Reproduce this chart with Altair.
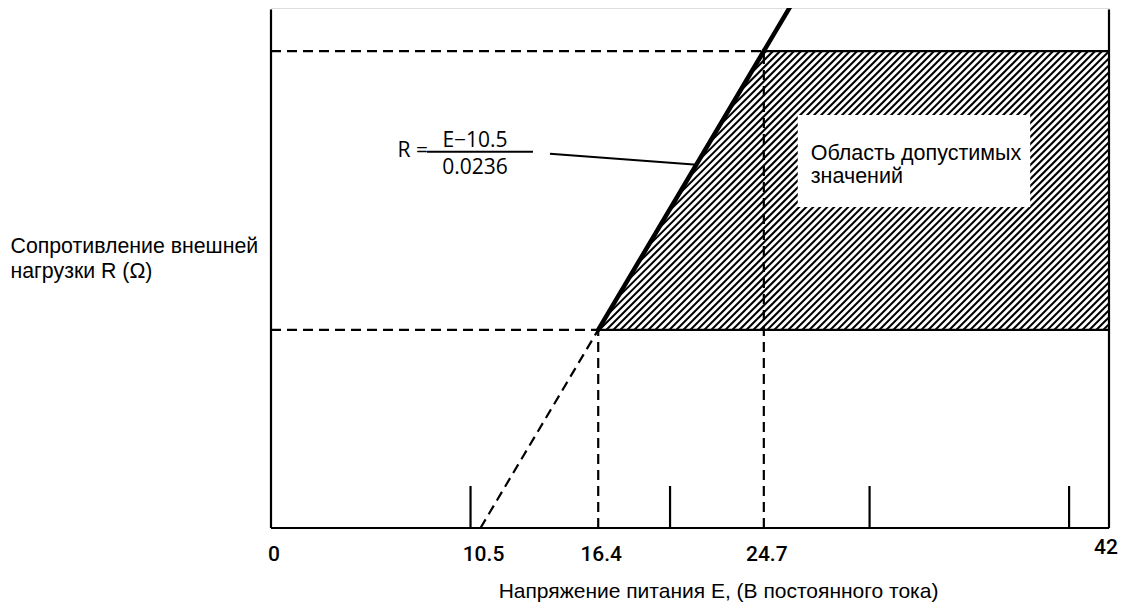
import altair as alt
import pandas as pd

# ---- data ----
E_DOMAIN = [0, 42]
R_DOMAIN = [0, 656]
E_ZERO = 10.5          # E at which R = 0
SLOPE = 0.0236
E_LOW = 16.4
E_HIGH = 24.7
E_MAX = 42
R_TOP = 654            # top of the drawn axes
R_LINE_TOP = 663       # top of the thick line (runs off the top edge)
R_LOW = (E_LOW - E_ZERO) / SLOPE     # ~250
R_HIGH = (E_HIGH - E_ZERO) / SLOPE   # ~601.7
E_TOPLINE = E_ZERO + R_LINE_TOP * SLOPE

minor_ticks = [10, 20, 30, 40]
minor_tick_len = 53
tick_values = [0, 10.5, 16.4, 24.7]
tick_labels = ["0", "10.5", "16.4", "24.7"]
end_value = [42]
end_label = ["42"]

box_E = [26.4, 38.05]
box_R = [405, 521]
box_text = "Область допустимых\nзначений"
box_text_pos = [27.05, 464]

formula_lhs = "R ="
formula_num = "E\u221210.5"
formula_den = "0.0236"
formula_bar_E = [7.82, 13.13]
formula_bar_R = 474.7
leader_E = [13.98, 21.35]
leader_R = [472, 458.3]

x_title = "Напряжение питания E, (В постоянного тока)"
y_title = ["Сопротивление внешней", "нагрузки R (Ω)"]

W, H = 838, 520
FONT = "Liberation Sans, Arial, sans-serif"

# ---- segments ----
solid = pd.DataFrame({
    "e1": [0, 0, E_MAX, E_LOW, E_HIGH] + minor_ticks,
    "r1": [0, 0, 0, R_LOW, R_HIGH] + [0] * len(minor_ticks),
    "e2": [0, E_MAX, E_MAX, E_MAX, E_MAX] + minor_ticks,
    "r2": [R_TOP, 0, R_TOP, R_LOW, R_HIGH] + [minor_tick_len] * len(minor_ticks),
})
dashed = pd.DataFrame({
    "e1": [0, 0, E_LOW, E_HIGH, E_ZERO],
    "r1": [R_LOW, R_HIGH, 0, 0, 0],
    "e2": [E_LOW, E_HIGH, E_LOW, E_HIGH, E_LOW],
    "r2": [R_LOW, R_HIGH, R_LOW, R_HIGH, R_LOW],
})
thick = pd.DataFrame({"e1": [E_LOW], "r1": [R_LOW], "e2": [E_TOPLINE], "r2": [R_LINE_TOP]})
leader = pd.DataFrame({"e1": [leader_E[0], formula_bar_E[0]], "r1": [leader_R[0], formula_bar_R],
                       "e2": [leader_E[1], formula_bar_E[1]], "r2": [leader_R[1], formula_bar_R]})

# ---- hatch lines clipped to the admissible region (pixel space, 45 deg) ----
sx = W / (E_DOMAIN[1] - E_DOMAIN[0])
sy = H / (R_DOMAIN[1] - R_DOMAIN[0])
poly = [(E_LOW * sx, R_LOW * sy), (E_MAX * sx, R_LOW * sy),
        (E_MAX * sx, R_HIGH * sy), (E_HIGH * sx, R_HIGH * sy)]
spacing = 7.0
hatch_rows = []
xs_all = [p[0] for p in poly]
ys_all = [p[1] for p in poly]
c = min(xs_all) - max(ys_all)
c_end = max(xs_all) - min(ys_all)
while c <= c_end:
    t0, t1 = -1e9, 1e9
    ok = True
    for i in range(len(poly)):
        ax, ay = poly[i]
        bx, by = poly[(i + 1) % len(poly)]
        ex, ey = bx - ax, by - ay
        const = ex * ((-c) - ay) - ey * (0 - ax)
        coef = ex * 1 - ey * 1
        if abs(coef) < 1e-12:
            if const < 0:
                ok = False
                break
            continue
        tb = -const / coef
        if coef > 0:
            t0 = max(t0, tb)
        else:
            t1 = min(t1, tb)
    if ok and t1 > t0:
        hatch_rows.append({"e1": t0 / sx, "r1": (t0 - c) / sy,
                           "e2": t1 / sx, "r2": (t1 - c) / sy})
    c += spacing
hatch = pd.DataFrame(hatch_rows)

xs = alt.Scale(domain=E_DOMAIN, nice=False, zero=False)
ys = alt.Scale(domain=R_DOMAIN, nice=False, zero=False)
x_axis = alt.Axis(labels=False, ticks=False, domain=False, grid=False, title=x_title,
                  titleFont=FONT, titleFontSize=21, titleFontWeight="normal", titleColor="#000",
                  titleX=447, titleY=69, titleBaseline="alphabetic", titleAlign="center")
y_axis = alt.Axis(labels=False, ticks=False, domain=False, grid=False, title=y_title,
                  titleFont=FONT, titleFontSize=21.3, titleFontWeight="normal", titleColor="#000",
                  titleAngle=0, titleAlign="left", titleBaseline="alphabetic",
                  titleX=-261, titleY=244, titleLineHeight=25)


def X(f="e1"):
    return alt.X(f"{f}:Q", scale=xs, axis=x_axis)


def Y(f="r1"):
    return alt.Y(f"{f}:Q", scale=ys, axis=y_axis)


def seg(df, **kw):
    return alt.Chart(df).mark_rule(**kw).encode(x=X(), y=Y(), x2="e2:Q", y2="r2:Q")


hatch_layer = seg(hatch, color="#000", strokeWidth=2)
box_layer = alt.Chart(pd.DataFrame({"e1": [box_E[0]], "e2": [box_E[1]], "r1": [box_R[0]], "r2": [box_R[1]]})
                      ).mark_rect(color="white").encode(x=X(), y=Y(), x2="e2:Q", y2="r2:Q")
solid_layer = seg(solid, color="#000", strokeWidth=2.2)
dashed_layer = seg(dashed, color="#000", strokeWidth=2.2, strokeDash=[10, 6])
thick_layer = seg(thick, color="#000", strokeWidth=4.5, strokeCap="round")
leader_layer = seg(leader, color="#000", strokeWidth=2)

box_txt = alt.Chart(pd.DataFrame({"e1": [box_text_pos[0]], "r1": [box_text_pos[1]], "t": [box_text]})).mark_text(
    align="left", baseline="alphabetic", font=FONT, fontSize=21.5, lineBreak="\n", lineHeight=23, color="#000"
).encode(x=X(), y=Y(), text="t:N")

FFONT = "Open Sans, Noto Sans, sans-serif"
lhs = alt.Chart(pd.DataFrame({"e1": [formula_bar_E[0]], "r1": [formula_bar_R], "t": [formula_lhs]})).mark_text(
    align="right", baseline="middle", font=FFONT, fontSize=21, dx=1, dy=-1, color="#000"
).encode(x=X(), y=Y(), text="t:N")
frac_mid = (formula_bar_E[0] + formula_bar_E[1]) / 2
num = alt.Chart(pd.DataFrame({"e1": [frac_mid], "r1": [formula_bar_R], "t": [formula_num]})).mark_text(
    align="center", baseline="alphabetic", font=FFONT, fontSize=21, dy=-5, dx=-5, color="#000"
).encode(x=X(), y=Y(), text="t:N")
den = alt.Chart(pd.DataFrame({"e1": [frac_mid], "r1": [formula_bar_R], "t": [formula_den]})).mark_text(
    align="center", baseline="alphabetic", font=FFONT, fontSize=21, dy=22, dx=-5, color="#000"
).encode(x=X(), y=Y(), text="t:N")

TFONT = "Roboto, Open Sans, sans-serif"
tick_txt = alt.Chart(pd.DataFrame({"e1": tick_values, "r1": [0] * len(tick_values), "t": tick_labels})).mark_text(
    align="center", baseline="middle", font=TFONT, fontSize=21, fontWeight=500, dy=27, dx=3, color="#000"
).encode(x=X(), y=Y(), text="t:N")
end_txt = alt.Chart(pd.DataFrame({"e1": end_value, "r1": [0], "t": end_label})).mark_text(
    align="center", baseline="middle", font=TFONT, fontSize=21, fontWeight=500, dy=20, dx=-3, color="#000"
).encode(x=X(), y=Y(), text="t:N")

chart = alt.layer(
    hatch_layer, box_layer, solid_layer, dashed_layer, thick_layer, leader_layer,
    box_txt, lhs, num, den, tick_txt, end_txt
).properties(
    width=W, height=H,
    autosize=alt.AutoSizeParams(type="none"),
    padding={"left": 263, "top": 0, "right": 9, "bottom": 75},
).configure_view(stroke=None).configure(background="white")

chart.save("out.html", embed_options={"renderer": "svg", "actions": False})
